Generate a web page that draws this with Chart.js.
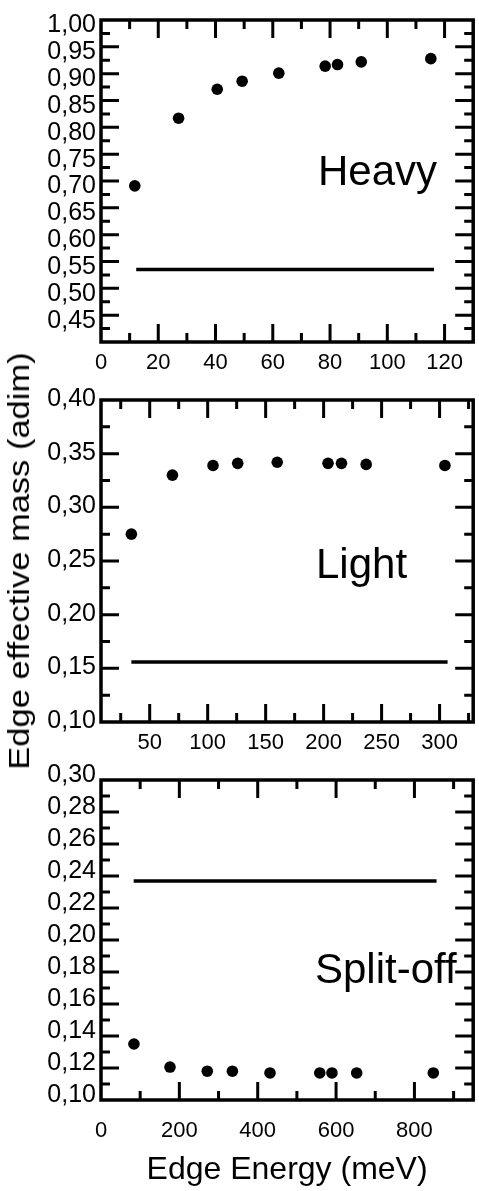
<!DOCTYPE html>
<html>
<head>
<meta charset="utf-8">
<script src="https://cdn.jsdelivr.net/npm/chart.js@4.4.1/dist/chart.umd.min.js"></script>
<style>
    html, body { margin: 0; padding: 0; background: #fff; }
    #figura { position: relative; width: 479px; height: 1191px; overflow: hidden; }
    #figura canvas { position: absolute; left: 0; }
    #tituloY {
        position: absolute; left: -228px; top: 541px; width: 500px; height: 40px;
        line-height: 40px; text-align: center; white-space: nowrap; color: #000;
        font: 30px 'Liberation Sans', Arial, sans-serif;
        transform: rotate(-90deg) scaleX(1.15);
    }
</style>
</head>
<body>
<div id="figura">
    <canvas id="graficoHeavy" width="479" height="380" style="top:0px"></canvas>
    <canvas id="graficoLight" width="479" height="380" style="top:380px"></canvas>
    <canvas id="graficoSplit" width="479" height="431" style="top:760px"></canvas>
    <div id="tituloY">Edge effective mass (adim)</div>
</div>
<script>
// Heavy
const heavyEnergy = [11.8, 27.1, 40.6, 49.3, 62.1, 78.3, 82.6, 90.9, 115.2];
const heavyMass = [0.691, 0.817, 0.871, 0.886, 0.901, 0.914, 0.917, 0.922, 0.928];
const heavyBulkEnergy = [12.3, 116.3];
const heavyBulkMass = [0.535, 0.535];
const heavyXMajor = [0, 20, 40, 60, 80, 100, 120];
const heavyXMinor = [10, 30, 50, 70, 90, 110];
const heavyYMajor = [0.45, 0.50, 0.55, 0.60, 0.65, 0.70, 0.75, 0.80, 0.85, 0.90, 0.95, 1.00];
const heavyYMinor = [0.425, 0.475, 0.525, 0.575, 0.625, 0.675, 0.725, 0.775, 0.825, 0.875, 0.925, 0.975];

// Light
const lightEnergy = [34.2, 69.6, 104.6, 125.9, 160.0, 203.8, 215.4, 236.7, 304.6];
const lightMass = [0.275, 0.330, 0.339, 0.341, 0.342, 0.341, 0.341, 0.340, 0.339];
const lightBulkEnergy = [34.2, 306.9];
const lightBulkMass = [0.156, 0.156];
const lightXMajor = [50, 100, 150, 200, 250, 300];
const lightXMinor = [25, 75, 125, 175, 225, 275, 325];
const lightYMajor = [0.10, 0.15, 0.20, 0.25, 0.30, 0.35, 0.40];
const lightYMinor = [0.125, 0.175, 0.225, 0.275, 0.325, 0.375];

// Split-off
const splitEnergy = [84.1, 176.1, 271.2, 335.4, 431.4, 558.4, 589.5, 652.6, 848.2];
const splitMass = [0.135, 0.1206, 0.118, 0.118, 0.1169, 0.1169, 0.1169, 0.1169, 0.1169];
const splitBulkEnergy = [83.4, 856.5];
const splitBulkMass = [0.2368, 0.2368];
const splitXMajor = [0, 200, 400, 600, 800];
const splitXMinor = [100, 300, 500, 700, 900];
const splitYMajor = [0.10, 0.12, 0.14, 0.16, 0.18, 0.20, 0.22, 0.24, 0.26, 0.28, 0.30];
const splitYMinor = [0.11, 0.13, 0.15, 0.17, 0.19, 0.21, 0.23, 0.25, 0.27, 0.29];

Chart.defaults.font.family = "'Liberation Sans', Arial, sans-serif";
Chart.defaults.color = '#000';

const fonte = "'Liberation Sans', Arial, sans-serif";

function ehMaior(lista, valor) {
    return lista.some((m) => Math.abs(m - valor) < 1e-9);
}

function pontos(xs, ys) {
    return xs.map((x, i) => ({ x: x, y: ys[i] }));
}

// moldura de 4 lados com marcas para dentro + nome do painel
function criarMoldura(xMajor, yMajor, texto, textoX, textoY) {
    return {
        id: 'moldura',
        afterDraw(chart) {
            const { ctx, chartArea: { left, right, top, bottom } } = chart;
            const sx = chart.scales.x;
            const sy = chart.scales.y;
            ctx.save();
            ctx.strokeStyle = '#000';
            ctx.lineCap = 'butt';
            ctx.lineWidth = 3;

            sx.ticks.forEach((t) => {
                if (Math.abs(t.value - sx.min) < 1e-9 || Math.abs(t.value - sx.max) < 1e-9) return;
                const px = sx.getPixelForValue(t.value);
                const len = ehMaior(xMajor, t.value) ? 18 : 9;
                ctx.beginPath();
                ctx.moveTo(px, bottom);
                ctx.lineTo(px, bottom - len);
                ctx.moveTo(px, top);
                ctx.lineTo(px, top + len);
                ctx.stroke();
            });

            sy.ticks.forEach((t) => {
                if (Math.abs(t.value - sy.min) < 1e-9 || Math.abs(t.value - sy.max) < 1e-9) return;
                const py = sy.getPixelForValue(t.value);
                const len = ehMaior(yMajor, t.value) ? 18 : 9;
                ctx.beginPath();
                ctx.moveTo(left, py);
                ctx.lineTo(left + len, py);
                ctx.moveTo(right, py);
                ctx.lineTo(right - len, py);
                ctx.stroke();
            });

            ctx.lineWidth = 3.5;
            ctx.strokeRect(left, top, right - left, bottom - top);

            ctx.fillStyle = '#000';
            ctx.font = '42px ' + fonte;
            ctx.textAlign = 'left';
            ctx.textBaseline = 'alphabetic';
            ctx.fillText(texto, textoX, textoY);
            ctx.restore();
        }
    };
}

function construirPainel(canvas, cfg) {

    let data = {
        datasets: [
            {
                label: 'bulk',
                data: pontos(cfg.linhaX, cfg.linhaY),
                showLine: true,
                borderColor: '#000',
                borderWidth: 3.5,
                pointRadius: 0
            },
            {
                label: 'edge',
                data: pontos(cfg.energia, cfg.massa),
                backgroundColor: '#000',
                borderWidth: 0,
                pointRadius: 5.8
            }
        ]
    }

    let options = {
        responsive: false,
        animation: false,
        events: [],
        layout: {
            padding: { left: 0, right: 2, top: 15, bottom: 0 }
        },
        scales: {
            x: {
                type: 'linear',
                min: cfg.xMin,
                max: cfg.xMax,
                grid: { display: false, drawTicks: false },
                border: { display: false },
                afterBuildTicks: (scale) => {
                    scale.ticks = [...cfg.xMajor, ...cfg.xMinor].sort((a, b) => a - b).map((v) => ({ value: v }));
                },
                afterFit: (scale) => { scale.height = cfg.alturaX; },
                ticks: {
                    autoSkip: false,
                    maxRotation: 0,
                    padding: cfg.paddingX,
                    font: { size: 22 },
                    callback: (valor) => ehMaior(cfg.xMajor, valor) ? String(valor) : ''
                },
                title: cfg.tituloX ? {
                    display: true,
                    text: cfg.tituloX,
                    font: { size: 32 },
                    padding: { top: 0, bottom: 2 }
                } : { display: false }
            },
            y: {
                type: 'linear',
                min: cfg.yMin,
                max: cfg.yMax,
                grid: { display: false, drawTicks: false },
                border: { display: false },
                afterBuildTicks: (scale) => {
                    scale.ticks = [...cfg.yMajor, ...cfg.yMinor].sort((a, b) => a - b).map((v) => ({ value: v }));
                },
                afterFit: (scale) => { scale.width = 101; },
                ticks: {
                    autoSkip: false,
                    padding: 5,
                    labelOffset: cfg.offsetY,
                    font: { size: 25 },
                    callback: (valor) => ehMaior(cfg.yMajor, valor) ? valor.toFixed(2).replace('.', ',') : ''
                }
            }
        },
        plugins: {
            legend: { display: false },
            tooltip: { enabled: false }
        }
    }

    return new Chart(canvas, {
        type: 'scatter',
        data: data,
        options: options,
        plugins: [criarMoldura(cfg.xMajor, cfg.yMajor, cfg.texto, cfg.textoX, cfg.textoY)]
    });
}

construirPainel(document.getElementById('graficoHeavy'), {
    energia: heavyEnergy, massa: heavyMass, linhaX: heavyBulkEnergy, linhaY: heavyBulkMass,
    xMin: 0, xMax: 130, yMin: 0.40, yMax: 1.00,
    xMajor: heavyXMajor, xMinor: heavyXMinor, yMajor: heavyYMajor, yMinor: heavyYMinor,
    alturaX: 38, paddingX: 8, offsetY: 5.5,
    texto: 'Heavy', textoX: 318, textoY: 185
});

construirPainel(document.getElementById('graficoLight'), {
    energia: lightEnergy, massa: lightMass, linhaX: lightBulkEnergy, linhaY: lightBulkMass,
    xMin: 8, xMax: 329, yMin: 0.10, yMax: 0.40,
    xMajor: lightXMajor, xMinor: lightXMinor, yMajor: lightYMajor, yMinor: lightYMinor,
    alturaX: 38, paddingX: 8, offsetY: -1,
    texto: 'Light', textoX: 316, textoY: 198
});

construirPainel(document.getElementById('graficoSplit'), {
    energia: splitEnergy, massa: splitMass, linhaX: splitBulkEnergy, linhaY: splitBulkMass,
    xMin: 0, xMax: 950, yMin: 0.10, yMax: 0.30,
    xMajor: splitXMajor, xMinor: splitXMinor, yMajor: splitYMajor, yMinor: splitYMinor,
    alturaX: 91, paddingX: 18, offsetY: -4.5,
    tituloX: 'Edge Energy (meV)',
    texto: 'Split-off', textoX: 315, textoY: 223
});
</script>
</body>
</html>
